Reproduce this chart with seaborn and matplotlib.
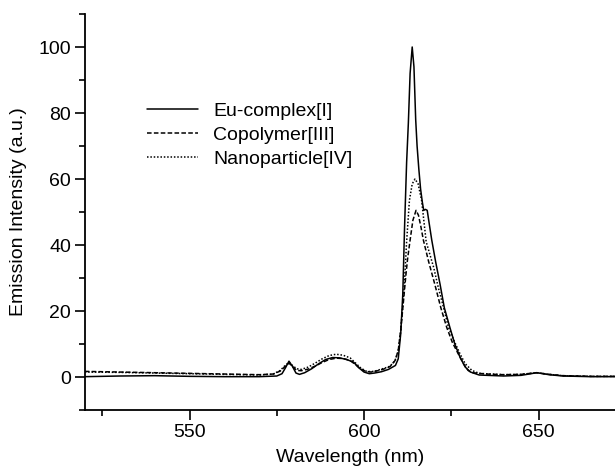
import numpy as np
import pandas as pd
import matplotlib
matplotlib.use("Agg")
import matplotlib.pyplot as plt
from matplotlib.ticker import MultipleLocator
import seaborn as sns

series_names = ["Eu-complex[I]", "Copolymer[III]", "Nanoparticle[IV]"]

eu_wl = [520, 530, 540, 550, 560, 570, 575, 576.5, 577.5, 578.5, 579.5, 580.5, 581.5, 583, 585, 587, 589, 591, 593, 595, 597, 598.5, 600, 601.5, 603, 605, 607, 609, 609.8, 610.5, 611.1, 611.6, 612.2, 612.7, 613.2, 613.8, 614.3, 614.8, 615.2, 615.7, 616.2, 616.7, 617.1, 617.6, 618.1, 618.6, 619.4, 620.5, 621.8, 623, 624.6, 626, 627.5, 629, 630.5, 633, 640, 645, 649.5, 653, 657, 665, 672]
eu_val = [0.1, 0.3, 0.4, 0.2, 0.1, 0.1, 0.3, 1.0, 2.8, 4.8, 3.2, 1.2, 0.8, 1.3, 2.5, 4.0, 5.3, 5.9, 5.8, 5.3, 4.5, 2.8, 1.5, 1.0, 1.2, 1.6, 2.3, 3.5, 5.5, 13, 25, 45, 65, 77, 92, 100, 94, 78, 70, 63, 57, 53, 50.5, 50.8, 50.5, 47, 41.5, 35, 28, 21, 15, 10, 6, 3, 1.5, 0.6, 0.3, 0.5, 1.3, 0.7, 0.3, 0.1, 0.1]

co_wl = [520, 530, 540, 550, 560, 570, 574, 576, 577.5, 578.5, 579.5, 580.7, 582, 584, 586, 588, 590, 592, 594, 596, 597.5, 599, 600.5, 602, 603.5, 605, 606.5, 607.5, 608.9, 609.8, 610.5, 611.3, 612, 612.5, 613.2, 614, 614.9, 615.6, 616.3, 617, 618.5, 620.3, 622, 623.7, 625.3, 627, 628.5, 629.8, 631, 635, 640, 645, 649.5, 653, 657, 665, 672]
co_val = [1.7, 1.5, 1.3, 1.1, 0.9, 0.7, 0.9, 1.8, 3.3, 4.2, 3.2, 2.0, 1.9, 2.4, 3.3, 4.4, 5.3, 5.7, 5.6, 5.0, 3.8, 2.5, 1.7, 1.5, 1.8, 2.2, 2.7, 3.2, 5.0, 8.0, 14, 23, 31, 36, 41.5, 47.5, 50.5, 49, 45.5, 41.5, 35, 28, 21, 15, 10.5, 7, 4, 2, 1.3, 0.9, 0.7, 0.8, 1.3, 0.8, 0.4, 0.2, 0.2]

np_wl = [520, 530, 540, 550, 560, 570, 574, 576, 577.5, 578.5, 579.5, 580.7, 582, 584, 586, 588, 590, 592, 594, 596, 597.5, 599, 600.5, 602, 603.5, 605, 606.5, 607.5, 608.9, 609.8, 610.5, 611.5, 612.2, 613, 613.8, 614.6, 615.5, 616.5, 617.8, 618.9, 620, 621.3, 622.8, 624.2, 626, 627.5, 629, 630.9, 633, 640, 645, 649.5, 653, 657, 665, 672]
np_val = [1.5, 1.4, 1.2, 1.0, 0.8, 0.6, 0.9, 2.0, 3.6, 4.4, 3.5, 2.5, 2.3, 3.0, 4.2, 5.5, 6.5, 6.9, 6.6, 5.8, 4.3, 2.8, 1.8, 1.6, 1.9, 2.4, 2.9, 3.3, 5.0, 8.0, 14, 27, 41, 53.5, 58.5, 60, 58.5, 53.5, 41, 37, 33, 27, 21, 15, 10.5, 7, 4, 2, 1.1, 0.7, 0.8, 1.3, 0.8, 0.4, 0.2, 0.2]

df = pd.concat([
    pd.DataFrame({"wl": eu_wl, "val": eu_val, "series": series_names[0]}),
    pd.DataFrame({"wl": co_wl, "val": co_val, "series": series_names[1]}),
    pd.DataFrame({"wl": np_wl, "val": np_val, "series": series_names[2]}),
], ignore_index=True)

sns.set_style("ticks")
plt.rcParams["font.family"] = ["Liberation Sans", "DejaVu Sans"]
plt.rcParams["text.color"] = "black"
plt.rcParams["axes.labelcolor"] = "black"
plt.rcParams["xtick.color"] = "black"
plt.rcParams["ytick.color"] = "black"
FS = 14
plt.rcParams["font.size"] = FS

fig = plt.figure(figsize=(6.15, 4.71), dpi=100)
ax = fig.add_axes([85 / 615, 1 - 410 / 471, (615 - 85) / 615, (410 - 14) / 471])

sns.lineplot(
    data=df, x="wl", y="val", hue="series", style="series",
    hue_order=series_names, style_order=series_names,
    palette=["black", "black", "black"],
    dashes={series_names[0]: "", series_names[1]: (3.0, 1.5), series_names[2]: (1, 1.2)},
    estimator=None, sort=True, linewidth=1.1, ax=ax,
)

ax.set_xlim(520.06, 671.9)
ax.set_ylim(-10, 110)
ax.xaxis.set_major_locator(MultipleLocator(50))
ax.xaxis.set_minor_locator(MultipleLocator(25))
ax.yaxis.set_minor_locator(MultipleLocator(10))
ax.set_yticks([0, 20, 40, 60, 80, 100])
ax.tick_params(which="major", length=7, width=1.2, direction="out", labelsize=FS,
               colors="black", labelcolor="black", pad=3)
ax.tick_params(which="minor", length=4, width=1.2, direction="out", colors="black")
for s in ["top", "right"]:
    ax.spines[s].set_visible(False)
for s in ["left", "bottom"]:
    ax.spines[s].set_linewidth(1.3)
    ax.spines[s].set_color("black")

ax.set_xlabel("Wavelength (nm)", fontsize=FS, labelpad=6, color="black")
ax.set_ylabel("Emission Intensity (a.u.)", fontsize=FS, labelpad=8, color="black")

leg = ax.legend(
    loc="upper left", bbox_to_anchor=((147 - 85) / 530, (410 - 102) / 396),
    frameon=False, handlelength=2.6, handletextpad=0.8, labelspacing=0.33,
    borderpad=0, borderaxespad=0, fontsize=FS,
)
for line in leg.get_lines():
    line.set_linewidth(1.1)
for t in leg.get_texts():
    t.set_color("black")

fig.savefig("out.png", dpi=100)
